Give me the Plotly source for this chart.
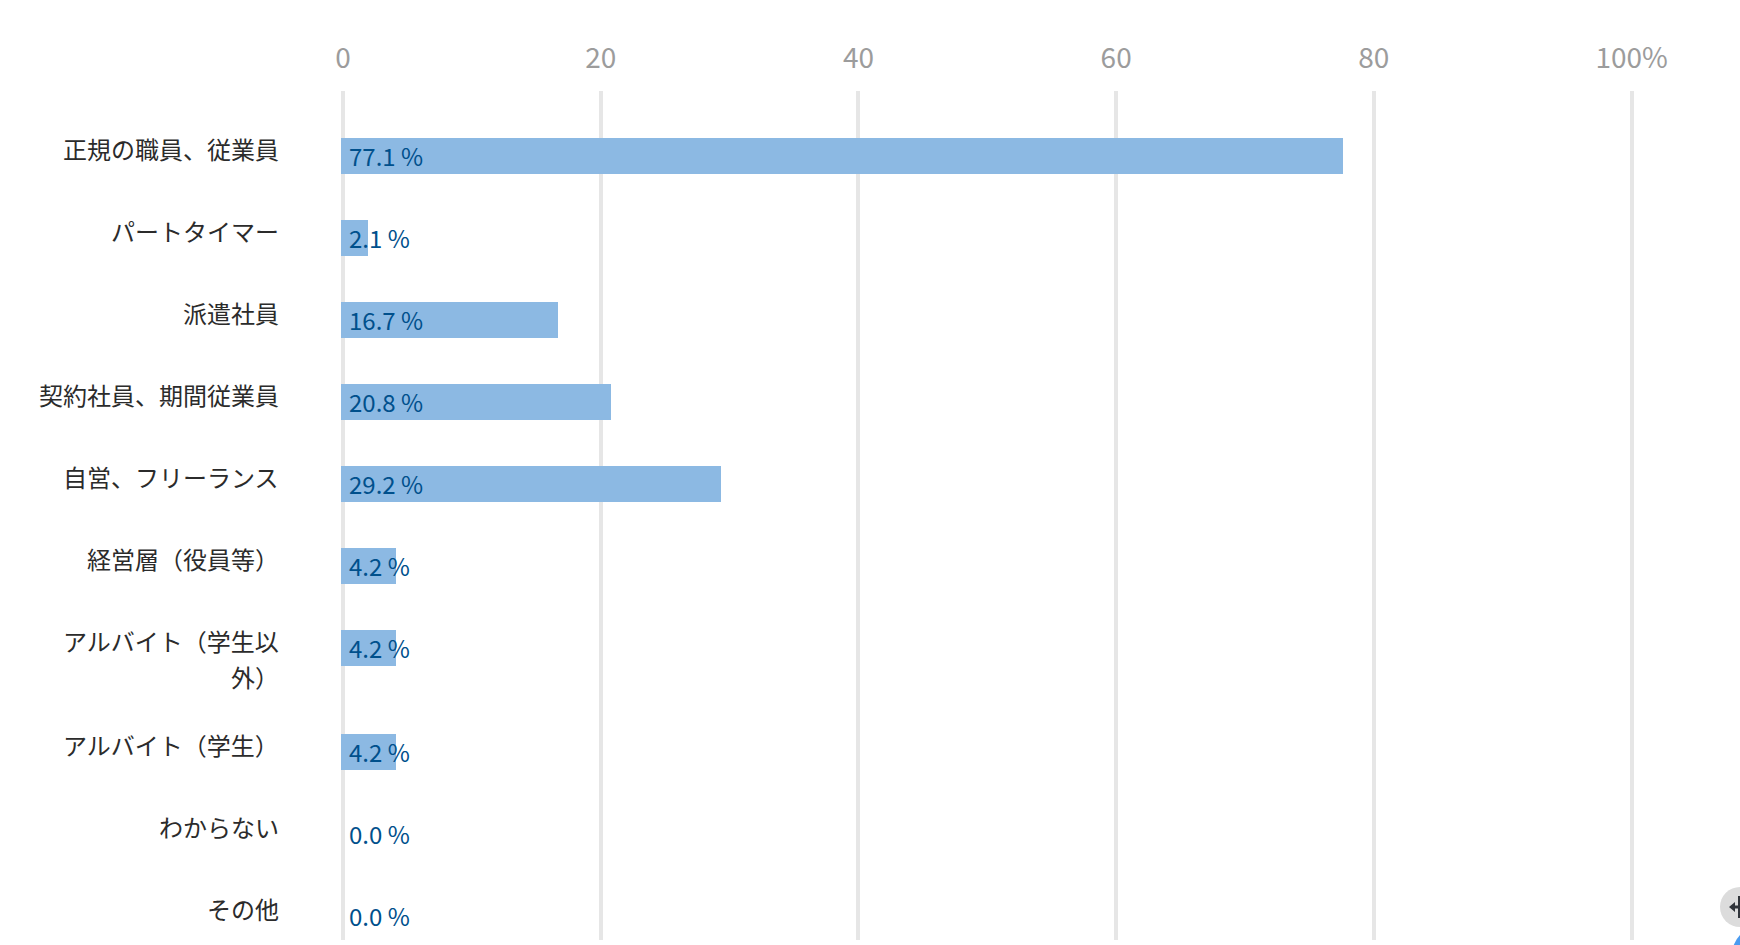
import plotly.graph_objects as go

categories = [
    ["正規の職員、従業員"],
    ["パートタイマー"],
    ["派遣社員"],
    ["契約社員、期間従業員"],
    ["自営、フリーランス"],
    ["経営層（役員等）"],
    ["アルバイト（学生以", "外）"],
    ["アルバイト（学生）"],
    ["わからない"],
    ["その他"],
]
values = [77.1, 2.1, 16.7, 20.8, 29.2, 4.2, 4.2, 4.2, 0.0, 0.0]
tick_values = [0, 20, 40, 60, 80, 100]
tick_labels = ["0", "20", "40", "60", "80", "100%"]

FONT = "Noto Sans CJK JP"
W, H = 1740, 945
L, R, T, B = 341, 0, 91, 5
PITCH = 82          # px per row
EXTRA = 22 / PITCH  # extra room a wrapped label takes

rows = []
pos = 0.0
for lines in categories:
    rows.append(pos)
    pos += 1 + EXTRA * (len(lines) - 1)

plot_w = W - L - R
plot_h = H - T - B
first_row_px = 156
y_top = (T - first_row_px) / PITCH
y_bottom = y_top + plot_h / PITCH

fig = go.Figure()
# invisible trace keeps the gridded top axis alive
fig.add_trace(go.Scatter(
    x=tick_values, y=[rows[0]] * len(tick_values), xaxis="x", yaxis="y",
    mode="markers", marker=dict(opacity=0), hoverinfo="skip", showlegend=False,
))
fig.add_trace(go.Bar(
    x=values, y=rows, orientation="h", xaxis="x2", yaxis="y",
    width=36 / PITCH, marker=dict(color="#8cb9e3", line=dict(width=0)),
    hoverinfo="skip", showlegend=False,
))

annotations = []
for r, v, lines in zip(rows, values, categories):
    annotations.append(dict(
        x=0, xref="x2", y=r, yref="y", xanchor="left", yanchor="middle",
        xshift=6, yshift=1, text=f"{v:.1f} %", showarrow=False,
        font=dict(family=FONT, size=24, color="#00508c"),
    ))
    for i, line in enumerate(lines):
        annotations.append(dict(
            x=0, xref="paper", y=r, yref="y", xanchor="right", yanchor="middle",
            xshift=-60, yshift=8 - 36 * i, text=line, showarrow=False,
            font=dict(family=FONT, size=24, color="#2b2b2b"),
        ))

def px(v):
    return (v - L) / plot_w

def py(v):
    return 1 - (v - T) / plot_h

shapes = [
    dict(type="circle", xref="paper", yref="paper", x0=px(1720), x1=px(1760),
         y0=py(887), y1=py(927), fillcolor="#dcdcdc", line=dict(width=0)),
    dict(type="circle", xref="paper", yref="paper", x0=px(1732), x1=px(1790),
         y0=py(926), y1=py(984), fillcolor="#4a9bf0", line=dict(width=0)),
    dict(type="path", xref="paper", yref="paper",
         path=f"M {px(1729)} {py(907)} L {px(1735)} {py(902)} L {px(1735)} {py(905.5)} "
              f"L {px(1738)} {py(905.5)} L {px(1738)} {py(896)} L {px(1741)} {py(896)} "
              f"L {px(1741)} {py(918)} L {px(1738)} {py(918)} L {px(1738)} {py(908.5)} "
              f"L {px(1735)} {py(908.5)} L {px(1735)} {py(912)} Z",
         fillcolor="#30343a", line=dict(width=0)),
]

fig.update_layout(
    width=W, height=H, autosize=False,
    margin=dict(l=L, r=R, t=T, b=B, pad=0),
    paper_bgcolor="white", plot_bgcolor="white",
    showlegend=False, bargap=0,
    font=dict(family=FONT),
    annotations=annotations, shapes=shapes,
    xaxis=dict(
        side="top", anchor="y",
        range=[-2 / 12.886, (W - 343) / 12.886],
        tickmode="array", tickvals=tick_values, ticktext=tick_labels,
        showgrid=True, gridcolor="#e6e6e6", gridwidth=4,
        zeroline=False, showline=False,
        ticks="outside", ticklen=11, tickcolor="rgba(0,0,0,0)", tickwidth=1,
        tickfont=dict(family=FONT, size=28, color="#9c9c9c"),
    ),
    xaxis2=dict(
        overlaying="x", side="bottom", anchor="y",
        range=[0, plot_w / 13], visible=False,
    ),
    yaxis=dict(
        range=[y_bottom, y_top], showgrid=False, zeroline=False,
        showline=False, ticks="", showticklabels=False,
    ),
)

fig.write_html("out.html", config={"displayModeBar": False},
               post_script="document.body.style.margin='0';document.body.style.overflow='hidden';")
